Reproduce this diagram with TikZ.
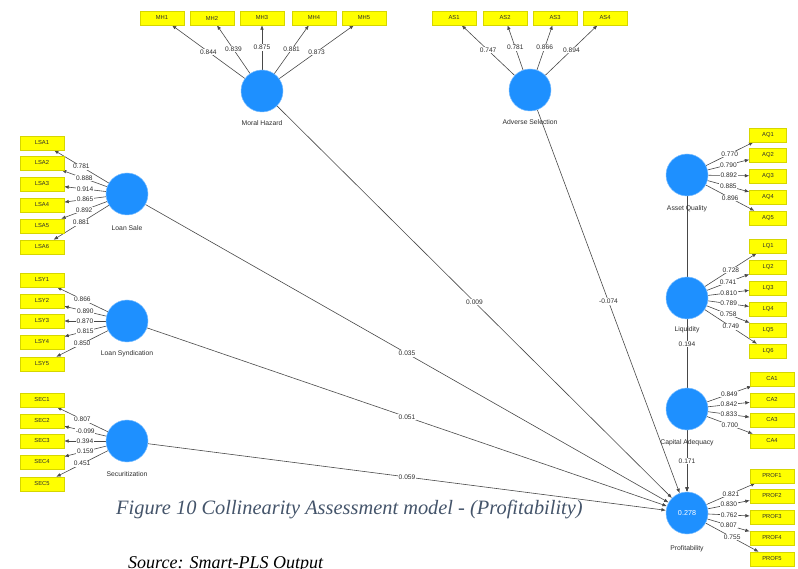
\documentclass[tikz,border=0pt]{standalone}
\usepackage{fontspec}
\setmainfont{Liberation Sans}
\newfontfamily\captionserif{Liberation Serif}
\usetikzlibrary{arrows.meta}
\pgfdeclarelayer{edges}
\pgfsetlayers{edges,main}
\definecolor{lvblue}{RGB}{30,144,255}
\definecolor{indyellow}{RGB}{255,255,0}
\definecolor{indborder}{RGB}{214,214,0}
\definecolor{linegray}{RGB}{72,72,72}
\definecolor{textgray}{RGB}{45,45,45}
\definecolor{captionblue}{RGB}{68,84,106}
\begin{document}
\begin{tikzpicture}[x=1pt,y=-1pt,
  latent/.style={circle,fill=lvblue,draw=lvblue!60!white,line width=0.5pt,
    minimum size=42pt,inner sep=0pt,text=white,font=\fontsize{7.2}{8}\selectfont},
  lvname/.style={font=\fontsize{6.8}{8}\selectfont,text=textgray,inner sep=0pt},
  ind/.style={rectangle,fill=indyellow,draw=indborder,line width=0.4pt,
    minimum width=44pt,minimum height=14pt,inner sep=0pt,
    font=\fontsize{5.8}{6}\selectfont,text=textgray},
  indnarrow/.style={ind,minimum width=37pt},
  load/.style={draw=linegray,line width=0.6pt,-{Latex[length=4.5pt,width=3.6pt]}},
  coef/.style={fill=white,inner sep=0.7pt,font=\fontsize{6.6}{7}\selectfont,text=textgray},
]
\useasboundingbox (0,0) rectangle (798,569);

% latent variables
\node[latent,label={[lvname,label distance=8pt]below:Moral Hazard}] (mh) at (262,91) {};
\node[latent,label={[lvname,label distance=8pt]below:Adverse Selection}] (as) at (530,90) {};
\node[latent,label={[lvname,label distance=10pt]below:Loan Sale}] (ls) at (127,194) {};
\node[latent,label={[lvname,label distance=8pt]below:Loan Syndication}] (lsy) at (127,321) {};
\node[latent,label={[lvname,label distance=9pt]below:Securitization}] (sec) at (127,441) {};
\node[latent,label={[lvname,label distance=9pt]below:Asset Quality}] (aq) at (687,175) {};
\node[latent,label={[lvname,label distance=7pt]below:Liquidity}] (lq) at (687,298) {};
\node[latent,label={[lvname,label distance=9pt]below:Capital Adequacy}] (ca) at (687,409) {};
\node[latent,label={[lvname,label distance=11pt]below:Profitability}] (prof) at (687,513) {0.278};

% indicators
\foreach \i/\x in {1/162,2/212,3/262,4/314,5/364}
  \node[ind] (mh\i) at (\x,18) {MH\i};
\foreach \i/\x in {1/454,2/505,3/555,4/605}
  \node[ind] (as\i) at (\x,18) {AS\i};
\foreach \i/\y in {1/143,2/163,3/184,4/205,5/226,6/247}
  \node[ind] (lsa\i) at (42,\y) {LSA\i};
\foreach \i/\y in {1/280,2/301,3/321,4/342,5/364}
  \node[ind] (lsy\i) at (42,\y) {LSY\i};
\foreach \i/\y in {1/400,2/421,3/441,4/462,5/484}
  \node[ind] (sec\i) at (42,\y) {SEC\i};
\foreach \i/\y in {1/135,2/155,3/176,4/197,5/218}
  \node[indnarrow] (aq\i) at (768,\y) {AQ\i};
\foreach \i/\y in {1/246,2/267,3/288,4/309,5/330,6/351}
  \node[indnarrow] (lq\i) at (768,\y) {LQ\i};
\foreach \i/\y in {1/379,2/400,3/420,4/441}
  \node[ind] (ca\i) at (772,\y) {CA\i};
\foreach \i/\y in {1/476,2/496,3/517,4/538,5/559}
  \node[ind] (prof\i) at (772,\y) {PROF\i};

\begin{pgfonlayer}{edges}
% outer loadings
\foreach \i/\v in {1/0.844,2/0.839,3/0.875,4/0.881,5/0.873}
  \draw[load] (mh) -- node[coef]{\v} (mh\i);
\foreach \i/\v in {1/0.747,2/0.781,3/0.866,4/0.894}
  \draw[load] (as) -- node[coef]{\v} (as\i);
\foreach \i/\v in {1/0.781,2/0.888,3/0.914,4/0.865,5/0.892,6/0.881}
  \draw[load] (ls) -- node[coef]{\v} (lsa\i);
\foreach \i/\v in {1/0.866,2/0.890,3/0.870,4/0.815,5/0.850}
  \draw[load] (lsy) -- node[coef]{\v} (lsy\i);
\foreach \i/\v in {1/0.807,2/-0.099,3/0.394,4/0.159,5/0.451}
  \draw[load] (sec) -- node[coef]{\v} (sec\i);
\foreach \i/\v in {1/0.770,2/0.790,3/0.892,4/0.885,5/0.896}
  \draw[load] (aq) -- node[coef]{\v} (aq\i);
\foreach \i/\v in {1/0.728,2/0.741,3/0.810,4/0.789,5/0.758,6/0.749}
  \draw[load] (lq) -- node[coef]{\v} (lq\i);
\foreach \i/\v in {1/0.849,2/0.842,3/0.833,4/0.700}
  \draw[load] (ca) -- node[coef]{\v} (ca\i);
\foreach \i/\v in {1/0.821,2/0.830,3/0.762,4/0.807,5/0.755}
  \draw[load] (prof) -- node[coef]{\v} (prof\i);

% path coefficients
\draw[load] (mh) -- node[coef]{0.009} (prof);
\draw[load] (as) -- node[coef]{-0.074} (prof);
\draw[load] (ls) -- node[coef]{0.035} (prof);
\draw[load] (lsy) -- node[coef]{0.051} (prof);
\draw[load] (sec) -- node[coef]{0.059} (prof);
\draw[load] (lq) -- (prof);
\draw[load] (aq) -- node[coef]{0.194} (prof);
\draw[load] (ca) -- node[coef]{0.171} (prof);
\end{pgfonlayer}

% caption
\node[anchor=base west,inner sep=0pt,text=captionblue,
  font=\captionserif\itshape\fontsize{20.4}{24}\selectfont] (figcap) at (116,514)
  {Figure 10 Collinearity Assessment model - (Profitability)};
\node[anchor=base west,inner sep=0pt,text=black,
  font=\captionserif\itshape\fontsize{18}{22}\selectfont] (srccap) at (128,568)
  {Source: Smart-PLS Output};
\end{tikzpicture}
\end{document}
